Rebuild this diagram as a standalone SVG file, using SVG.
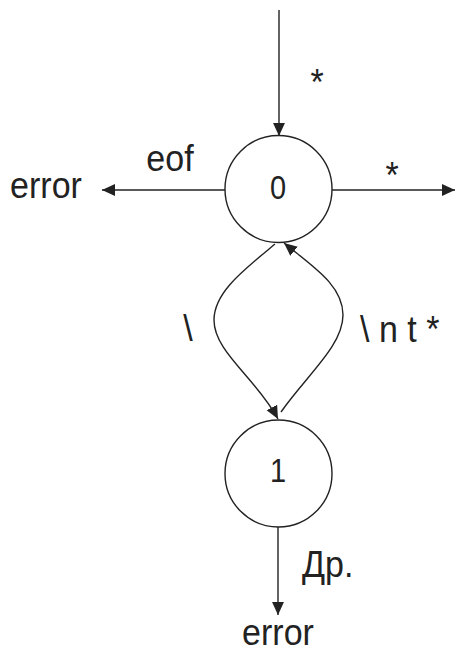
<svg xmlns="http://www.w3.org/2000/svg" width="455" height="652" viewBox="0 0 455 652">
<style>
.t{font-family:"Liberation Sans",Arial,sans-serif;font-size:34px;fill:#222}
.d{font-family:"Liberation Sans",Arial,sans-serif;font-size:29px;fill:#222}
.node{fill:#fff;stroke:#222;stroke-width:1.4}
.edge{fill:none;stroke:#222;stroke-width:1.4}
</style>
<defs>
<marker id="ah" viewBox="0 0 12 12" refX="12" refY="6" markerWidth="13" markerHeight="13" markerUnits="userSpaceOnUse" orient="auto">
<path d="M0,0.5 L12,6 L0,11.5 z" fill="#222"/>
</marker>
</defs>
<g id="connectors">
<path class="edge" d="M279,10 L279,136" marker-end="url(#ah)"/>
<path class="edge" d="M225,190 L102,190" marker-end="url(#ah)"/>
<path class="edge" d="M332,190 L455,190" marker-end="url(#ah)"/>
<path class="edge" d="M275,244 C244,270 214,292 214,320 C214,352 256,378 278,419" marker-end="url(#ah)"/>
<path class="edge" d="M281,412 C306,376 343,346 343,315 C343,285 312,266 284,243" marker-end="url(#ah)"/>
<path class="edge" d="M278,527 L278,615" marker-end="url(#ah)"/>
<text class="t" text-anchor="middle" transform="translate(317,95) scale(1,1.1)">*</text>
<text class="t" text-anchor="middle" transform="translate(392,188) scale(1,1.1)">*</text>
<text class="t" text-anchor="middle" transform="translate(170,171) scale(1,1.1)">eof</text>
<text class="t" text-anchor="middle" transform="translate(188,341) scale(1,1.1)">\</text>
<text class="t" transform="translate(360,342) scale(1,1.1)">\ n t *</text>
<text class="t" transform="translate(302,577) scale(1,1.1)">Др.</text>
</g>
<g id="error-left">
<text class="t" text-anchor="middle" transform="translate(46,198) scale(1,1.1)">error</text>
</g>
<g id="error-bottom">
<text class="t" text-anchor="middle" transform="translate(278,645) scale(1,1.1)">error</text>
</g>
<g id="state0">
<circle class="node" cx="278.5" cy="189" r="53.5"/>
<text class="d" text-anchor="middle" transform="translate(278,199) scale(1,1.12)">0</text>
</g>
<g id="state1">
<circle class="node" cx="278.5" cy="473.5" r="53.5"/>
<text class="d" text-anchor="middle" transform="translate(278,482) scale(1,1.12)">1</text>
</g>
</svg>
